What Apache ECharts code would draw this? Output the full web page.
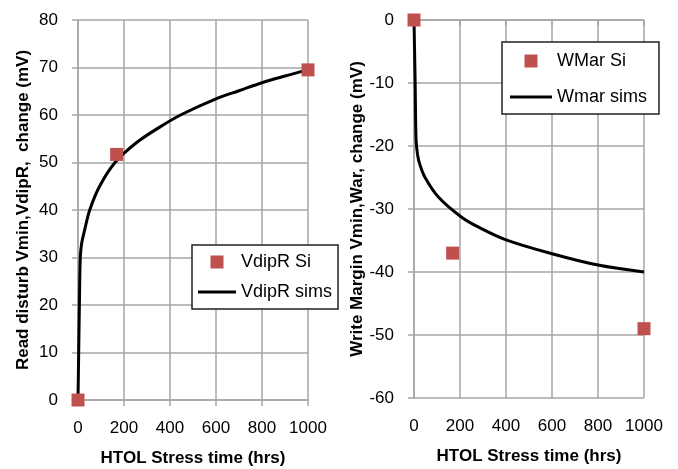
<!DOCTYPE html>
<html>
<head>
<meta charset="utf-8">
<script src="https://cdn.jsdelivr.net/npm/echarts@6/dist/echarts.min.js"></script>
<style>html,body{margin:0;padding:0;background:#fff;}#chart{width:678px;height:469px;}</style>
</head>
<body>
<div id="chart"></div>
<script>
// ---- Data ----
const xTicksMax = 1000;
const vdipSiHours = [0, 168, 1000];
const vdipSiValues = [0, 51.7, 69.5];
const vdipSimHours = [0, 3, 6, 10, 16, 29, 51, 94, 161, 255, 357, 450, 600, 700, 800, 900, 1000];
const vdipSimValues = [0, 10, 20, 30, 33, 35.8, 40, 45, 50, 54.2, 57.5, 60.1, 63.4, 65.1, 66.8, 68.2, 69.5];
const wmarSiHours = [0, 168, 1000];
const wmarSiValues = [0, -37, -49];
const wmarSimHours = [0, 5, 9, 16, 26, 48, 106, 207, 287, 400, 600, 800, 1000];
const wmarSimValues = [0, -10, -19, -21.5, -23, -25, -28.1, -31.3, -33, -34.9, -37.1, -38.9, -40];
const leftNames = ['VdipR Si', 'VdipR sims'];
const rightNames = ['WMar Si', 'Wmar sims'];

const pair = (xs, ys) => xs.map((x, i) => [x, ys[i]]);

const FONT = 'Liberation Sans';
const gridColor = '#a6a6a6';
const red = '#c0504d';

function xAxis(gridIndex) {
  return {
    gridIndex, type: 'value', min: 0, max: xTicksMax, interval: 200,
    name: 'HTOL Stress time (hrs)', nameLocation: 'middle', nameGap: 50,
    nameTextStyle: { fontFamily: FONT, fontSize: 17, fontWeight: 'bold', color: '#000' },
    axisLine: { show: true, lineStyle: { color: gridColor, width: 1.5 } },
    axisTick: { show: true, length: 6, lineStyle: { color: gridColor, width: 1.5 } },
    axisLabel: { fontFamily: FONT, fontSize: 17, color: '#000', margin: 20, formatter: v => String(v) },
    splitLine: { show: true, lineStyle: { color: gridColor, width: 1.5 } }
  };
}
function yAxis(gridIndex, min, max, name, gap) {
  return {
    gridIndex, type: 'value', min, max, interval: 10,
    name, nameLocation: 'middle', nameGap: gap,
    nameTextStyle: { fontFamily: FONT, fontSize: 17, fontWeight: 'bold', color: '#000' },
    axisLine: { show: true, lineStyle: { color: gridColor, width: 1.5 } },
    axisTick: { show: true, length: 6, lineStyle: { color: gridColor, width: 1.5 } },
    axisLabel: { fontFamily: FONT, fontSize: 17, color: '#000', margin: 20, formatter: v => String(v) },
    splitLine: { show: true, lineStyle: { color: gridColor, width: 1.5 } }
  };
}
function legend(names, left, top, itemWidth, itemGap, padding) {
  return {
    orient: 'vertical', left, top, itemWidth, itemHeight: 13, itemGap,
    padding, borderColor: '#222', borderWidth: 1.5, backgroundColor: '#fff',
    symbolKeepAspect: true,
    textStyle: { fontFamily: FONT, fontSize: 18, color: '#000' },
    data: [
      { name: names[0], icon: 'path://M0,0h10v10h-10z' },
      { name: names[1], icon: 'path://M0,0h40v3h-40z' }
    ]
  };
}

const chart = echarts.init(document.getElementById('chart'), null, { renderer: 'canvas' });
chart.setOption({
  animation: false,
  backgroundColor: '#fff',
  grid: [
    { left: 78, top: 20, width: 230, height: 380, outerBoundsMode: 'none', containLabel: false },
    { left: 414, top: 20, width: 230, height: 378, outerBoundsMode: 'none', containLabel: false }
  ],
  xAxis: [xAxis(0), xAxis(1)],
  yAxis: [
    yAxis(0, 0, 80, 'Read disturb Vmin,VdipR,  change (mV)', 46),
    yAxis(1, -60, 0, 'Write Margin Vmin,War, change (mV)', 47)
  ],
  legend: [
    legend(leftNames, 192, 245, 38, 12, [8, 6, 8, 6]),
    legend(rightNames, 502, 42, 42, 18, [10, 12, 8, 8])
  ],
  series: [
    { name: leftNames[1], type: 'line', xAxisIndex: 0, yAxisIndex: 0, data: pair(vdipSimHours, vdipSimValues),
      symbol: 'none', smooth: 0.35, clip: false, lineStyle: { color: '#000', width: 3 }, itemStyle: { color: '#000' }, z: 3 },
    { name: leftNames[0], type: 'scatter', xAxisIndex: 0, yAxisIndex: 0, data: pair(vdipSiHours, vdipSiValues),
      symbol: 'rect', symbolSize: 13, clip: false, itemStyle: { color: red, opacity: 1 }, z: 4 },
    { name: rightNames[1], type: 'line', xAxisIndex: 1, yAxisIndex: 1, data: pair(wmarSimHours, wmarSimValues),
      symbol: 'none', smooth: 0.35, clip: false, lineStyle: { color: '#000', width: 3 }, itemStyle: { color: '#000' }, z: 3 },
    { name: rightNames[0], type: 'scatter', xAxisIndex: 1, yAxisIndex: 1, data: pair(wmarSiHours, wmarSiValues),
      symbol: 'rect', symbolSize: 13, clip: false, itemStyle: { color: red, opacity: 1 }, z: 4 }
  ]
});
</script>
</body>
</html>
